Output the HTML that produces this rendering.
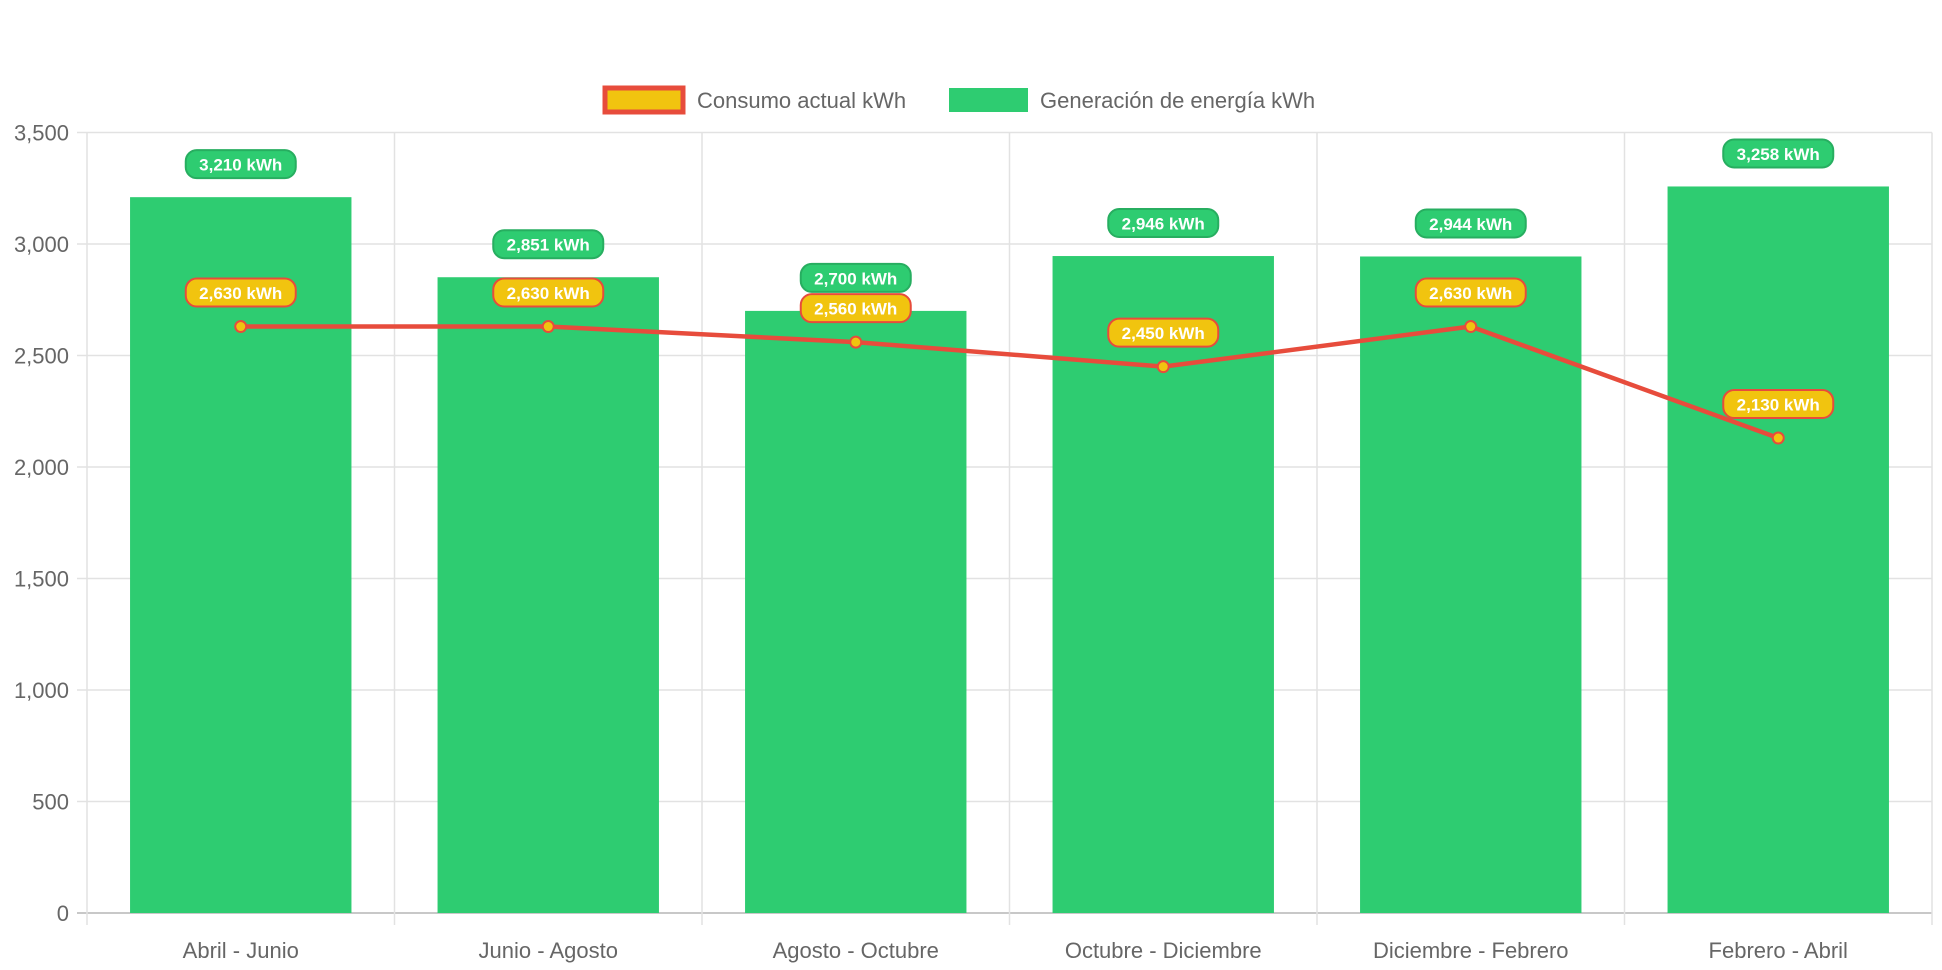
<!DOCTYPE html>
<html><head><meta charset="utf-8"><style>
html,body{margin:0;padding:0;background:#fff;width:1942px;height:970px;overflow:hidden}
text{font-family:"Liberation Sans",Arial,sans-serif}
</style></head><body>
<svg id="chart" width="1942" height="970" xmlns="http://www.w3.org/2000/svg"></svg>
<script>
const categories=["Abril - Junio","Junio - Agosto","Agosto - Octubre","Octubre - Diciembre","Diciembre - Febrero","Febrero - Abril"];
const generation=[3210,2851,2700,2946,2944,3258];
const consumption=[2630,2630,2560,2450,2630,2130];
const yTicks=[0,500,1000,1500,2000,2500,3000,3500];
const yTickLabels=["0","500","1,000","1,500","2,000","2,500","3,000","3,500"];

const svg=document.getElementById('chart');
const NS='http://www.w3.org/2000/svg';
const L=87,R=1932,T=132.5,B=913,YMAX=3500;
const cw=(R-L)/categories.length;
function y(v){return B-(v/YMAX)*(B-T);}
function xc(i){return L+cw*(i+0.5);}
function mk(tag,attrs,parent){const e=document.createElementNS(NS,tag);for(const k in attrs)e.setAttribute(k,attrs[k]);(parent||svg).appendChild(e);return e;}
function fmt(v){return v.toLocaleString('en-US')+' kWh';}

// grid
const grid=mk('g',{});


yTicks.forEach((t,i)=>{
  const ln=mk('line',{x1:L-10,x2:R,y1:y(t),y2:y(t),stroke:i===0?'#c8c8c8':'#e2e2e2','stroke-width':i===0?2:1.5},grid);
  
  
  const tx=mk('text',{x:L-18,y:y(t)+8,'text-anchor':'end','font-size':22,fill:'#666'});
  tx.textContent=yTickLabels[i];
  
  
});
for(let i=0;i<=categories.length;i++){
  const x=L+cw*i;
  const ln=mk('line',{x1:x,x2:x,y1:T,y2:B+12,stroke:'#e2e2e2','stroke-width':1.5},grid);
  
  
}
categories.forEach((c,i)=>{
  const tx=mk('text',{x:xc(i),y:958,'text-anchor':'middle','font-size':22,fill:'#666'});
  tx.textContent=c;
  
  
});

// bars
const bw=cw*0.72;
generation.forEach((v,i)=>{
  const r=mk('rect',{x:xc(i)-bw/2,y:y(v),width:bw,height:B-y(v),fill:'#2ecc71'});
  
  
});

// line
const pts=consumption.map((v,i)=>xc(i)+','+y(v)).join(' ');
const pl=mk('polyline',{points:pts,fill:'none',stroke:'#e74c3c','stroke-width':4.5,'stroke-linejoin':'round'});


consumption.forEach((v,i)=>{
  const c=mk('circle',{cx:xc(i),cy:y(v),r:5.5,fill:'#f1c40f',stroke:'#e74c3c','stroke-width':2});
  
  
});

// labels
function pill(cx,cy,txt,fill,stroke,name){
  const g=mk('g',{});
  
  
  const w=110,h=28;
  mk('rect',{x:cx-w/2,y:cy-h/2,width:w,height:h,rx:11,fill:fill,stroke:stroke,'stroke-width':2},g);
  const t=mk('text',{x:cx,y:cy+6.5,'text-anchor':'middle','font-size':17,'font-weight':'bold',fill:'#fff'},g);
  t.textContent=txt;
}
generation.forEach((v,i)=>pill(xc(i),y(v)-33,fmt(v),'#2ecc71','#27ae60','generation-value-label'));
consumption.forEach((v,i)=>pill(xc(i),y(v)-34,fmt(v),'#f1c40f','#e74c3c','consumption-value-label'));

// legend
const lg=mk('g',{});


const e1=mk('g',{},lg);


mk('rect',{x:605,y:88,width:78,height:24,fill:'#f1c40f',stroke:'#e74c3c','stroke-width':5},e1);
const t1=mk('text',{x:697,y:108,'font-size':22,fill:'#666'},e1);t1.textContent='Consumo actual kWh';
const e2=mk('g',{},lg);


mk('rect',{x:949,y:88,width:79,height:24,fill:'#2ecc71'},e2);
const t2=mk('text',{x:1040,y:108,'font-size':22,fill:'#666'},e2);t2.textContent='Generación de energía kWh';
</script>
</body></html>
